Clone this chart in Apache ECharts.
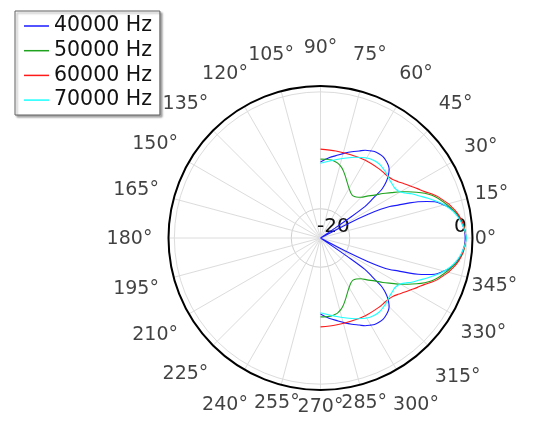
<!DOCTYPE html>
<html>
<head>
<meta charset="utf-8">
<script src="https://cdn.jsdelivr.net/npm/echarts@6/dist/echarts.min.js"></script>
<style>
  html, body { margin: 0; padding: 0; background: #ffffff; }
  #chart { width: 537px; height: 436px; }
</style>
</head>
<body>
<div id="chart"></div>
<script>
// Upper half (0..90 deg) of each curve; the plot is mirror-symmetric about 0 deg.
const seriesNames = ['40000 Hz', '50000 Hz', '60000 Hz', '70000 Hz'];

const angles40 = [90, 84, 78, 74, 70, 66, 63, 60, 58, 55, 52.5, 50, 47, 45, 43.5, 42, 40.6, 39.3, 38.3, 37.3, 36.2, 35.3, 34.7, 34.3, 34, 28.5, 27.5, 26.5, 25.5, 24.5, 23, 21.5, 20.4, 19, 17.6, 15.5, 13.8, 12, 10.3, 8, 5.9, 3, 0];
const db40     = [-12.0, -11.2, -10.5, -9.9, -9.3, -8.7, -8.15, -7.8, -7.57, -7.45, -7.45, -7.65, -8.0, -8.4, -8.9, -9.5, -10.2, -11.0, -11.75, -13.35, -14.6, -15.7, -18.6, -22, -25, -25, -19.5, -16.0, -13.6, -12.0, -10.6, -8.6, -7.2, -5.8, -4.5, -3.4, -2.55, -1.95, -1.4, -0.95, -0.66, -0.35, -0.25];

const angles50 = [90, 86, 82, 79, 76.8, 74, 71.7, 69, 66, 62, 58.7, 55.5, 52.3, 49, 45, 42, 38.4, 35.5, 32.6, 30, 27.9, 25.5, 23.2, 21, 18.7, 16, 13.6, 11.5, 9.5, 7.5, 5.9, 3, 0];
const db50     = [-11.5, -11.5, -11.55, -11.7, -11.9, -12.3, -12.75, -13.4, -14.1, -14.9, -15.4, -15.75, -15.9, -15.7, -15.15, -14.3, -13.2, -11.9, -10.6, -9.2, -8.1, -6.8, -5.6, -4.6, -3.8, -3.0, -2.3, -1.7, -1.15, -0.8, -0.5, -0.25, -0.15];

const angles60 = [90, 80, 70, 60, 50, 45, 42, 39, 36, 33, 29.5, 27, 24, 21.5, 19.4, 17, 15.2, 13, 11, 9, 7.3, 5, 2.5, 0];
const db60     = [-9.8, -9.9, -9.85, -9.65, -9.5, -9.45, -9.35, -9.1, -8.6, -7.95, -7.1, -6.4, -5.5, -4.5, -3.7, -3.0, -2.4, -1.85, -1.35, -0.95, -0.7, -0.45, -0.25, -0.15];

const angles70 = [90, 84, 77.5, 72, 67, 63, 59.2, 56.5, 53.8, 51, 48.1, 44.5, 40, 37, 33.8, 30.3, 28, 25.9, 23, 20.3, 18, 16, 14, 12.1, 10.3, 8.6, 6.5, 4.8, 2.5, 0];
const db70     = [-12.2, -11.8, -11.2, -10.6, -10.0, -9.55, -9.13, -8.95, -8.85, -8.85, -9.0, -9.2, -9.55, -9.65, -9.7, -9.3, -8.6, -7.7, -6.6, -5.4, -4.4, -3.5, -2.75, -2.1, -1.6, -1.2, -0.8, -0.55, -0.25, -0.05];

// Tick labels
const angleTicks = [0, 15, 30, 45, 60, 75, 90, 105, 120, 135, 150, 165, 180, 195, 210, 225, 240, 255, 270, 285, 300, 315, 330, 345];
const radialLabels = [-20, 0];
const radialMin = -25, radialMax = 1;

// Layout (pixels): polar frame and where the angle labels sit
const CENTER = [320.5, 238];
const RADIUS = 152;
const LABEL_R = 191;
const LABEL_R_OVERRIDE = { 0: 165, 15: 177, 30: 185, 255: 169, 270: 168, 285: 169, 315: 194, 330: 188, 345: 180 };

const colors = ['#1a1aff', '#1fa31f', '#ff1a1a', '#1affff'];

function buildCurve(angles, db) {
  const pts = [];
  for (let i = 0; i < angles.length; i++) pts.push([Math.max(db[i], radialMin), angles[i]]);
  for (let i = angles.length - 2; i >= 0; i--) pts.push([Math.max(db[i], radialMin), 360 - angles[i]]);
  return pts;
}
function pxToRadialValue(px) { return radialMin + px / RADIUS * (radialMax - radialMin); }

const curves = [
  buildCurve(angles40, db40),
  buildCurve(angles50, db50),
  buildCurve(angles60, db60),
  buildCurve(angles70, db70)
];

const labelPoints = angleTicks.map(function (a) {
  const r = (LABEL_R_OVERRIDE[a] !== undefined) ? LABEL_R_OVERRIDE[a] : LABEL_R;
  return { value: [pxToRadialValue(r), a], name: a + '°' };
});

const chart = echarts.init(document.getElementById('chart'), null, { renderer: 'canvas' });
const font = 'DejaVu Sans';

const option = {
  backgroundColor: '#ffffff',
  animation: false,
  textStyle: { fontFamily: font },
  legend: {
    orient: 'vertical',
    left: 15,
    top: 11,
    data: seriesNames,
    icon: 'rect',
    itemWidth: 25,
    itemHeight: 1.5,
    itemGap: 3.7,
    padding: [4.5, 8, 4.4, 9],
    backgroundColor: '#ffffff',
    borderColor: '#606060',
    borderWidth: 1,
    borderRadius: 0,
    shadowColor: 'rgba(0,0,0,0.35)',
    shadowBlur: 2,
    shadowOffsetX: 2,
    shadowOffsetY: 2,
    textStyle: { fontFamily: font, fontSize: 20.5, lineHeight: 21, color: '#111111' },
    selectedMode: false
  },
  polar: { center: CENTER, radius: RADIUS },
  angleAxis: {
    type: 'value',
    min: 0,
    max: 360,
    interval: 15,
    startAngle: 0,
    clockwise: false,
    axisLine: { show: true, lineStyle: { color: '#000000', width: 2 } },
    axisTick: { show: false },
    axisLabel: { show: false },
    splitLine: { show: true, lineStyle: { color: '#dcdcdc', width: 1 } }
  },
  radiusAxis: {
    type: 'value',
    min: radialMin,
    max: radialMax,
    interval: 5,
    axisLine: { show: false },
    axisTick: { show: false },
    axisLabel: {
      show: true,
      inside: true,
      formatter: function (v) { return radialLabels.indexOf(v) >= 0 ? String(v) : ''; },
      fontFamily: font,
      fontSize: 20,
      color: '#111111',
      align: 'right',
      verticalAlign: 'bottom',
      margin: 1
    },
    splitLine: {
      show: true,
      lineStyle: {
        color: ['rgba(0,0,0,0)', '#cfcfcf', 'rgba(0,0,0,0)', 'rgba(0,0,0,0)', 'rgba(0,0,0,0)', '#dcdcdc', 'rgba(0,0,0,0)'],
        width: 1
      }
    }
  },
  series: seriesNames.map(function (name, i) {
    return {
      name: name,
      type: 'line',
      coordinateSystem: 'polar',
      showSymbol: false,
      symbol: 'none',
      smooth: 0.3,
      clip: false,
      data: curves[i],
      itemStyle: { color: colors[i] },
      lineStyle: { color: colors[i], width: 1.1 },
      z: 3 + i
    };
  }).concat([{
    name: 'angle labels',
    type: 'scatter',
    coordinateSystem: 'polar',
    clip: false,
    silent: true,
    symbolSize: 1,
    itemStyle: { color: 'rgba(0,0,0,0)' },
    data: labelPoints,
    label: {
      show: true,
      position: 'inside',
      align: 'center',
      verticalAlign: 'middle',
      offset: [0, 1.5],
      formatter: function (p) { return p.name; },
      fontFamily: font,
      fontSize: 19,
      color: '#111111'
    },
    z: 10
  }])
};

chart.setOption(option);
</script>
</body>
</html>
